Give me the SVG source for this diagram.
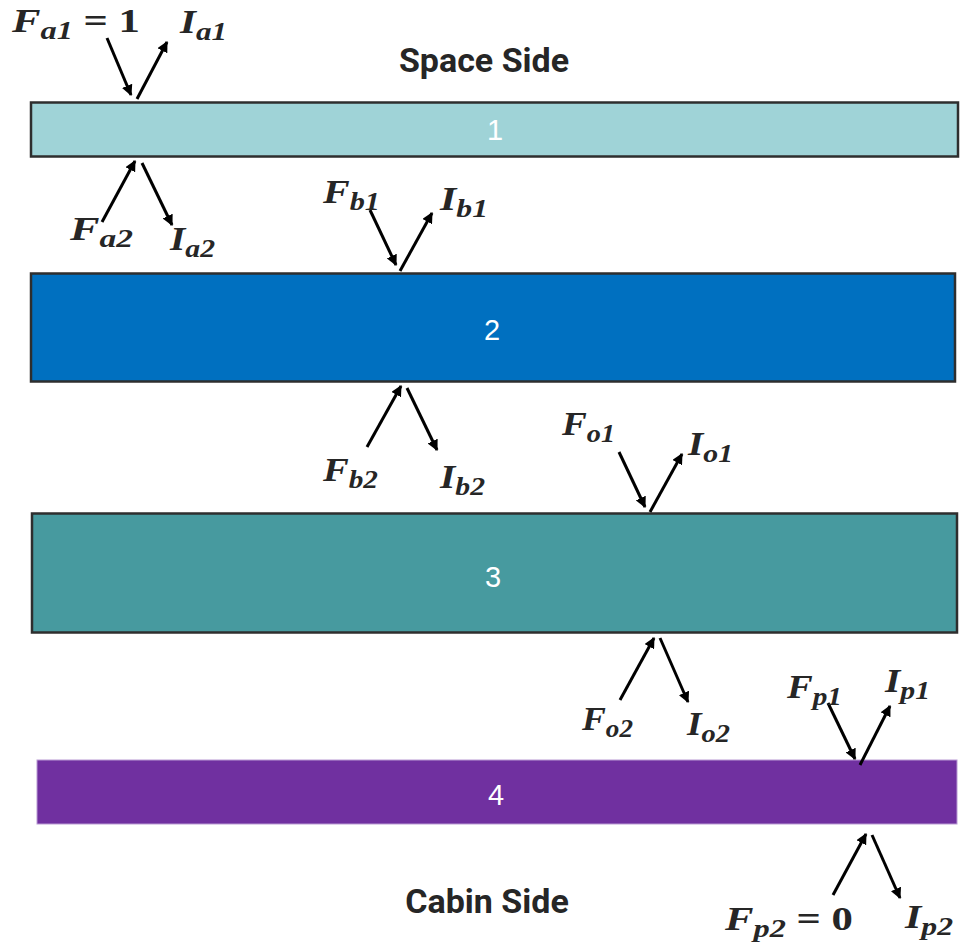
<svg xmlns="http://www.w3.org/2000/svg" width="967" height="945" viewBox="0 0 967 945">
  <defs>
    <marker id="head" viewBox="0 0 10 10" refX="9" refY="5" markerWidth="11" markerHeight="11" markerUnits="userSpaceOnUse" orient="auto">
      <path d="M0,0 L10,5 L0,10 Z" fill="#000"/>
    </marker>
    <style>
      .layer-dark { stroke: #2e2e2e; stroke-width: 2.5; }
      .num { font-family: "Liberation Sans", Arial, sans-serif; font-size: 29px; fill: #ffffff; text-anchor: middle; dominant-baseline: central; }
      .side { font-family: Roboto, "Liberation Sans", sans-serif; font-weight: bold; font-size: 34px; fill: #262626; text-anchor: middle; }
      .sym { font-family: "Liberation Serif", "Times New Roman", serif; font-weight: bold; font-style: italic; font-size: 33px; fill: #262626; }
      .sub { font-size: 25px; }
      .up { font-style: normal; }
      .ray { stroke: #000; stroke-width: 3; fill: none; marker-end: url(#head); }
    </style>
  </defs>

  <rect width="967" height="945" fill="#ffffff"/>

  <text class="side" x="484" y="72">Space Side</text>
  <text class="side" x="487" y="913">Cabin Side</text>

  <g id="layer1">
    <rect class="layer-dark" x="31" y="102.5" width="927" height="54" fill="#9fd3d7"/>
    <text class="num" x="495" y="130">1</text>
  </g>
  <g id="layer2">
    <rect class="layer-dark" x="31" y="273.5" width="924" height="108" fill="#0070c0"/>
    <text class="num" x="492" y="330">2</text>
  </g>
  <g id="layer3">
    <rect class="layer-dark" x="32" y="513.5" width="925" height="119" fill="#479a9f"/>
    <text class="num" x="493" y="577">3</text>
  </g>
  <g id="layer4">
    <rect x="37" y="760" width="920" height="64" fill="#7030a0" stroke="#b99ad3" stroke-width="1"/>
    <text class="num" x="496" y="795">4</text>
  </g>

  <g id="connectors">
    <!-- layer 1 top -->
    <line class="ray" x1="107" y1="38" x2="131" y2="95"/>
    <line class="ray" x1="137" y1="99" x2="167" y2="42"/>
    <!-- layer 1 bottom -->
    <line class="ray" x1="102" y1="222" x2="135" y2="161"/>
    <line class="ray" x1="142" y1="163" x2="172" y2="225"/>
    <!-- layer 2 top -->
    <line class="ray" x1="370" y1="210" x2="396" y2="265"/>
    <line class="ray" x1="400" y1="271" x2="432" y2="213"/>
    <!-- layer 2 bottom -->
    <line class="ray" x1="367" y1="447" x2="401" y2="386"/>
    <line class="ray" x1="407" y1="388" x2="437" y2="450"/>
    <!-- layer 3 top -->
    <line class="ray" x1="619" y1="452" x2="645" y2="507"/>
    <line class="ray" x1="650" y1="512" x2="682" y2="454"/>
    <!-- layer 3 bottom -->
    <line class="ray" x1="620" y1="700" x2="654" y2="638"/>
    <line class="ray" x1="660" y1="638" x2="688" y2="702"/>
    <!-- layer 4 top -->
    <line class="ray" x1="828" y1="703" x2="855" y2="759"/>
    <line class="ray" x1="860" y1="765" x2="890" y2="706"/>
    <!-- layer 4 bottom -->
    <line class="ray" x1="833" y1="895" x2="866" y2="834"/>
    <line class="ray" x1="872" y1="835" x2="900" y2="898"/>
  </g>

  <g id="labels">
    <text class="sym" x="12" y="32" textLength="128" lengthAdjust="spacingAndGlyphs">F<tspan class="sub" dy="7">a1</tspan><tspan class="up" dy="-7"> = 1</tspan></text>
    <text class="sym" x="180" y="33" textLength="47" lengthAdjust="spacingAndGlyphs">I<tspan class="sub" dy="7">a1</tspan></text>
    <text class="sym" x="70" y="240" textLength="63" lengthAdjust="spacingAndGlyphs">F<tspan class="sub" dy="7">a2</tspan></text>
    <text class="sym" x="170" y="250" textLength="45" lengthAdjust="spacingAndGlyphs">I<tspan class="sub" dy="7">a2</tspan></text>
    <text class="sym" x="323" y="203" textLength="57" lengthAdjust="spacingAndGlyphs">F<tspan class="sub" dy="7">b1</tspan></text>
    <text class="sym" x="440" y="210" textLength="48" lengthAdjust="spacingAndGlyphs">I<tspan class="sub" dy="7">b1</tspan></text>
    <text class="sym" x="323" y="481" textLength="55" lengthAdjust="spacingAndGlyphs">F<tspan class="sub" dy="7">b2</tspan></text>
    <text class="sym" x="440" y="488" textLength="45" lengthAdjust="spacingAndGlyphs">I<tspan class="sub" dy="7">b2</tspan></text>
    <text class="sym" x="562" y="435" textLength="53" lengthAdjust="spacingAndGlyphs">F<tspan class="sub" dy="7">o1</tspan></text>
    <text class="sym" x="688" y="455" textLength="45" lengthAdjust="spacingAndGlyphs">I<tspan class="sub" dy="7">o1</tspan></text>
    <text class="sym" x="582" y="730" textLength="51" lengthAdjust="spacingAndGlyphs">F<tspan class="sub" dy="7">o2</tspan></text>
    <text class="sym" x="687" y="735" textLength="43" lengthAdjust="spacingAndGlyphs">I<tspan class="sub" dy="7">o2</tspan></text>
    <text class="sym" x="787" y="698" textLength="55" lengthAdjust="spacingAndGlyphs">F<tspan class="sub" dy="7">p1</tspan></text>
    <text class="sym" x="885" y="692" textLength="45" lengthAdjust="spacingAndGlyphs">I<tspan class="sub" dy="7">p1</tspan></text>
    <text class="sym" x="725" y="930" textLength="128" lengthAdjust="spacingAndGlyphs">F<tspan class="sub" dy="7">p2</tspan><tspan class="up" dy="-7"> = 0</tspan></text>
    <text class="sym" x="905" y="928" textLength="48" lengthAdjust="spacingAndGlyphs">I<tspan class="sub" dy="7">p2</tspan></text>
  </g>
</svg>
